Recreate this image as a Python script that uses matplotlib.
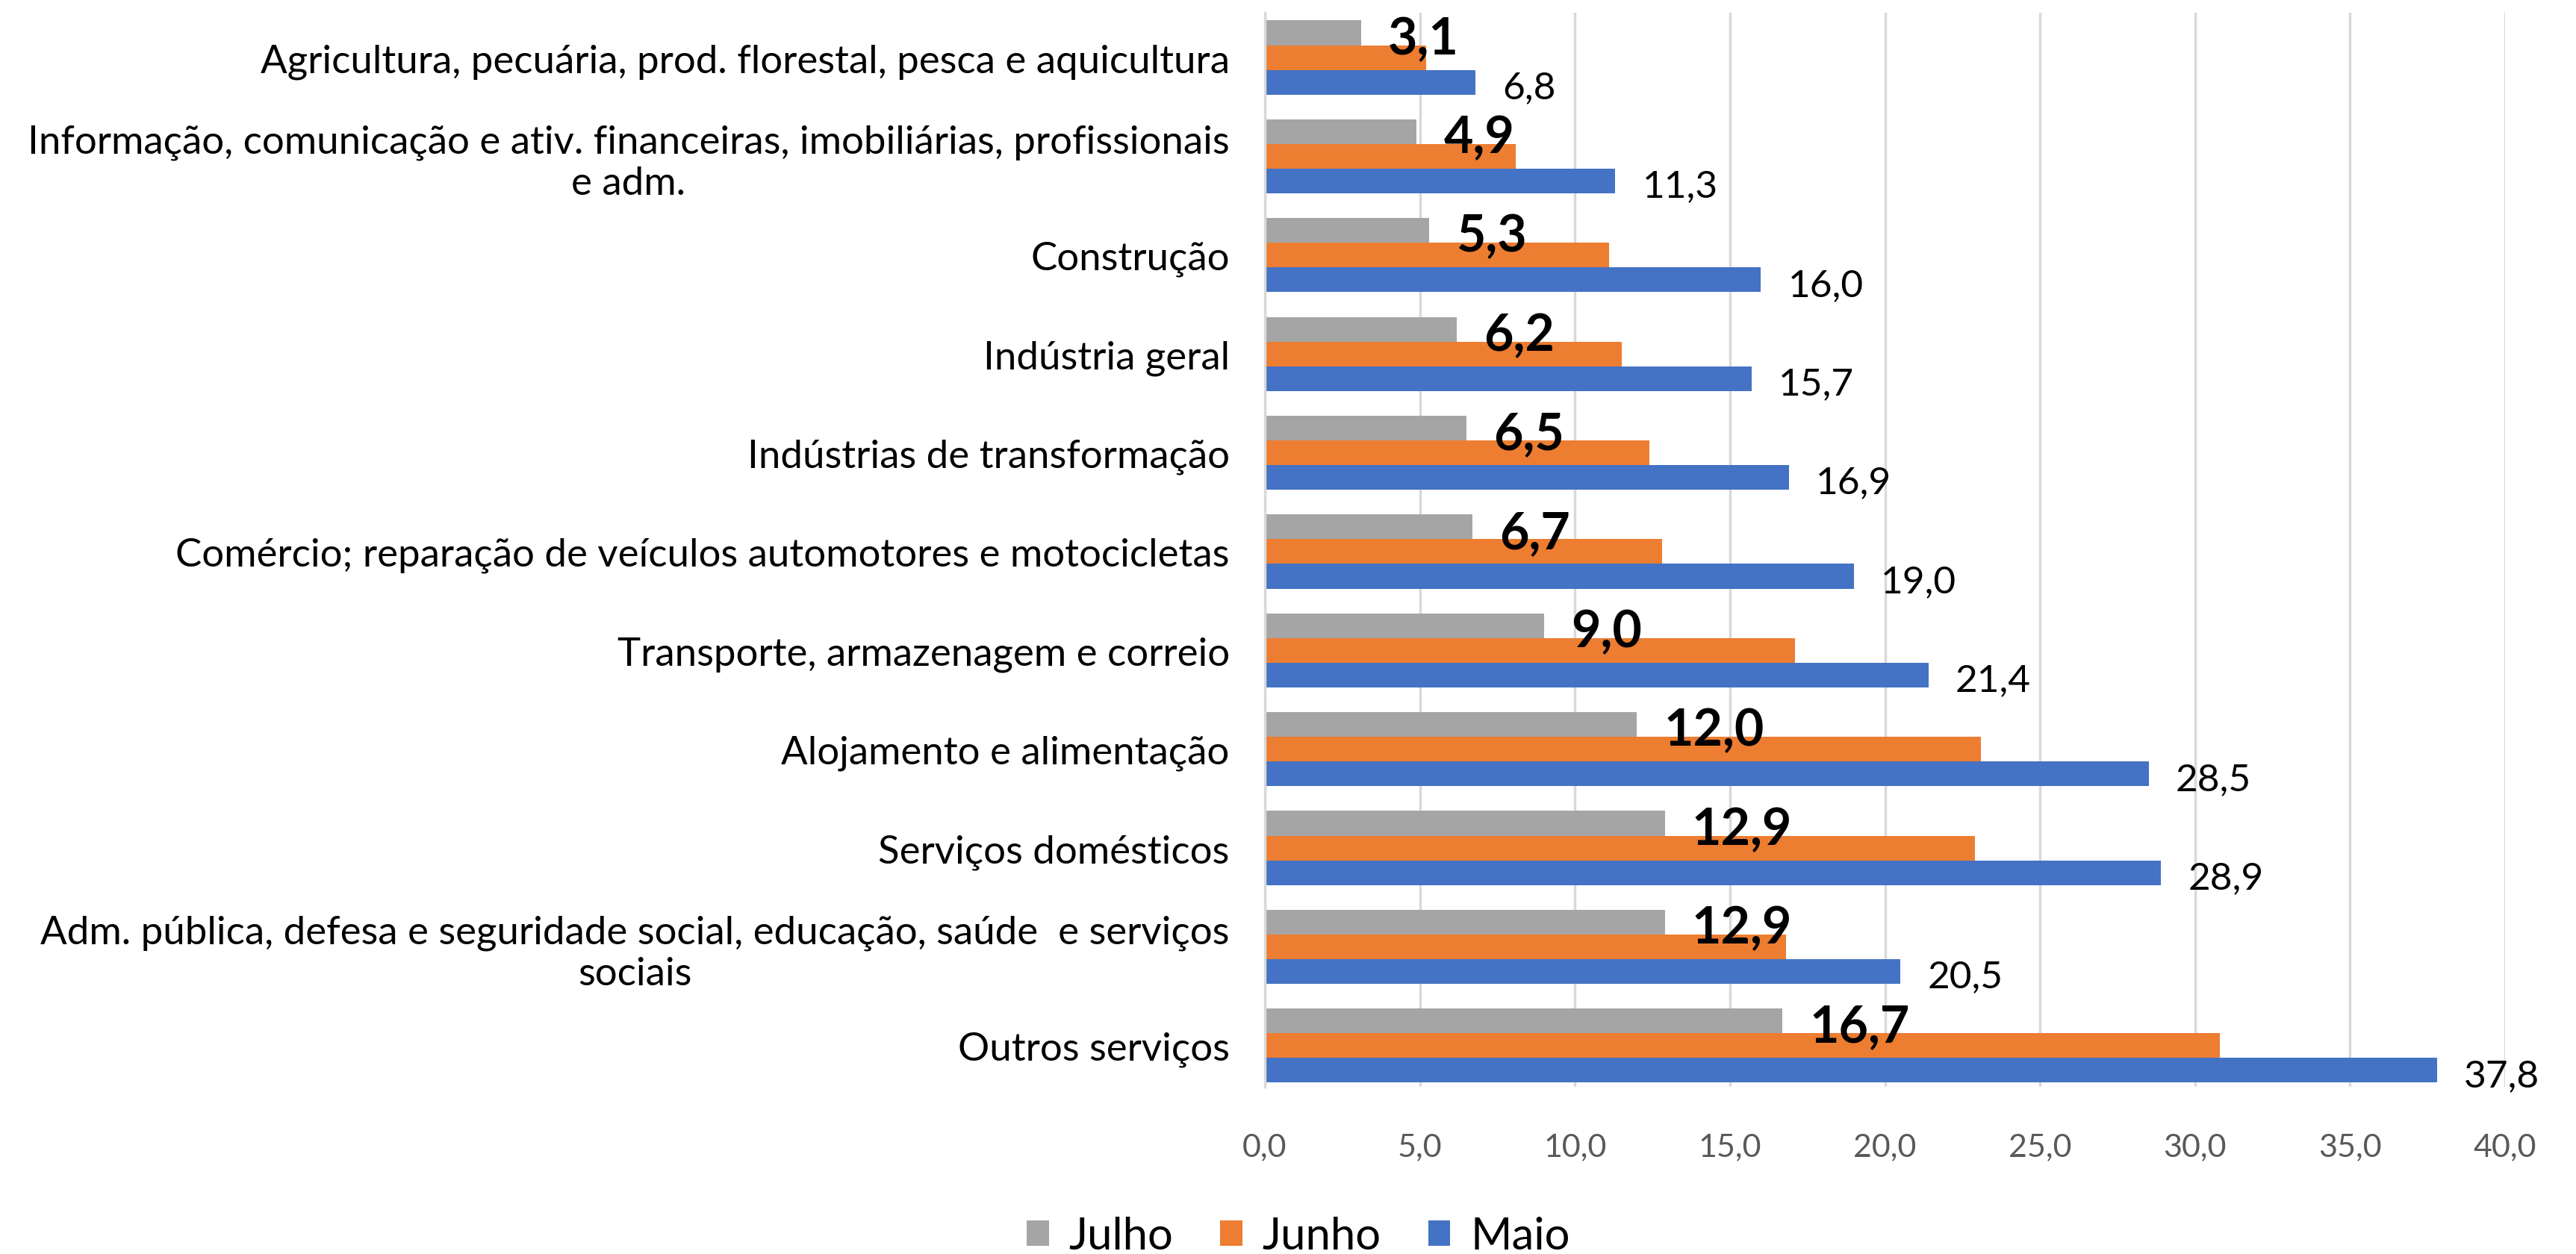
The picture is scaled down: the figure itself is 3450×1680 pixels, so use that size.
import numpy as np
import matplotlib
matplotlib.use("Agg")
import matplotlib.pyplot as plt

# =========================================================
# DATA
# =========================================================

categories = [
    "Agricultura, pecuária, prod. florestal, pesca e aquicultura",
    "Informação, comunicação e ativ. financeiras, imobiliárias, profissionais\ne adm.",
    "Construção",
    "Indústria geral",
    "Indústrias de transformação",
    "Comércio; reparação de veículos automotores e motocicletas",
    "Transporte, armazenagem e correio",
    "Alojamento e alimentação",
    "Serviços domésticos",
    "Adm. pública, defesa e seguridade social, educação, saúde  e serviços\nsociais",
    "Outros serviços",
]

julho = [3.1, 4.9, 5.3, 6.2, 6.5, 6.7, 9.0, 12.0, 12.9, 12.9, 16.7]
junho = [5.2, 8.1, 11.1, 11.5, 12.4, 12.8, 17.1, 23.1, 22.9, 16.8, 30.8]
maio = [6.8, 11.3, 16.0, 15.7, 16.9, 19.0, 21.4, 28.5, 28.9, 20.5, 37.8]

series_names = ["Julho", "Junho", "Maio"]
xticks = [0, 5, 10, 15, 20, 25, 30, 35, 40]

# =========================================================
# STYLE
# =========================================================

plt.rcParams["font.family"] = ["Lato", "DejaVu Sans"]

colors = {"Julho": "#A5A5A5", "Junho": "#ED7D31", "Maio": "#4472C4"}


def fmt(v):
    return f"{v:.1f}".replace(".", ",")


fig = plt.figure(figsize=(34.5, 16.81), dpi=100)

ax = fig.add_axes([0.491, 0.133, 0.4815, 0.856])

y = np.arange(len(categories))
h = 0.25

b_jul = ax.barh(y - h, julho, height=h, color=colors["Julho"], label="Julho")
b_jun = ax.barh(y, junho, height=h, color=colors["Junho"], label="Junho")
b_mai = ax.barh(y + h, maio, height=h, color=colors["Maio"], label="Maio")

# ---------------------------------
# Data labels
# ---------------------------------

for bar, v in zip(b_jul, julho):
    ax.annotate(
        fmt(v),
        (bar.get_width(), bar.get_y() + bar.get_height() / 2),
        xytext=(26, -6),
        textcoords="offset points",
        ha="left",
        va="center",
        fontsize=49,
        fontweight="bold",
        color="black",
    )

for bar, v in zip(b_mai, maio):
    ax.annotate(
        fmt(v),
        (bar.get_width(), bar.get_y() + bar.get_height() / 2),
        xytext=(26, -5),
        textcoords="offset points",
        ha="left",
        va="center",
        fontsize=37,
        color="black",
    )

# ---------------------------------
# Axes
# ---------------------------------

ax.set_xlim(0, 40)
ax.set_ylim(len(categories) - 0.58, -0.45)

ax.set_xticks(xticks)
ax.set_xticklabels([fmt(t) for t in xticks], fontsize=31, color="#595959")

ax.set_yticks(y)
ax.set_yticklabels(categories, fontsize=38, color="black")

for lab in ax.get_yticklabels():
    lab.set_multialignment("center")

ax.tick_params(axis="y", length=0, pad=34)
ax.tick_params(axis="x", length=0, pad=44)

ax.grid(axis="x", color="#D9D9D9", linewidth=2.5)
ax.set_axisbelow(True)

for side in ["top", "right", "bottom"]:
    ax.spines[side].set_visible(False)

ax.spines["left"].set_color("#D9D9D9")
ax.spines["left"].set_linewidth(2.5)

fig.legend(
    handles=[b_jul, b_jun, b_mai],
    labels=series_names,
    loc="center",
    bbox_to_anchor=(0.504, 0.014),
    ncol=3,
    frameon=False,
    fontsize=43,
    handlelength=0.5,
    handleheight=0.5,
    handletextpad=0.45,
    columnspacing=1.05,
)

fig.savefig("out.png", dpi=100)
